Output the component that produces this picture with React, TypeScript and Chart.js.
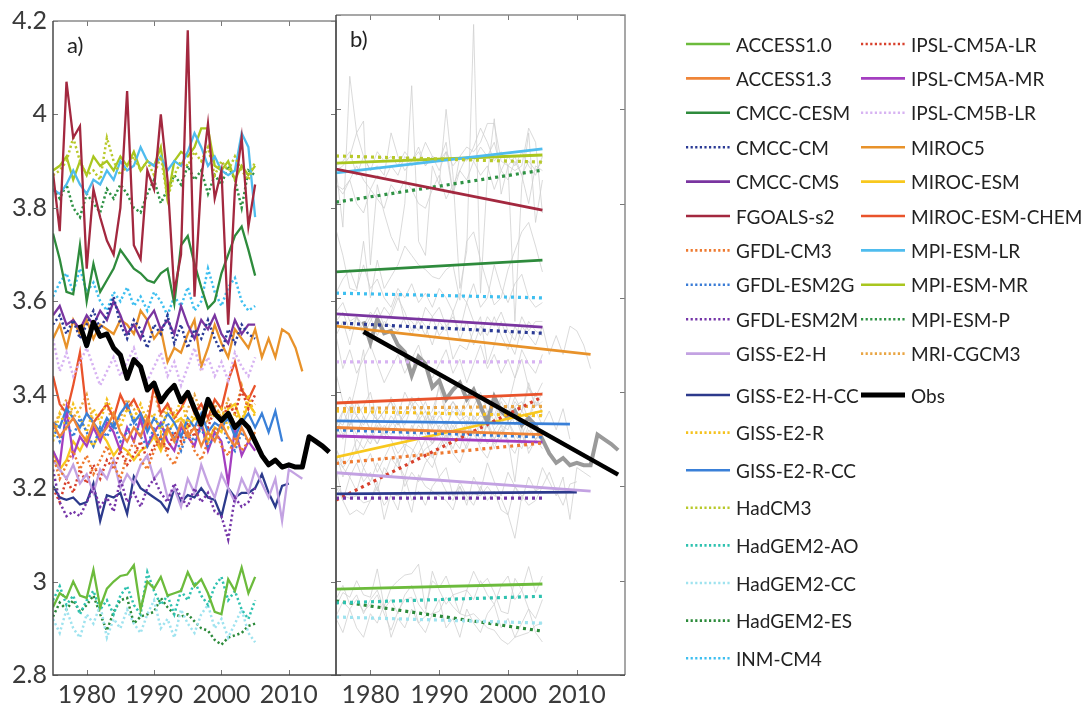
import React, { useEffect, useRef } from "react";
import { Chart, registerables } from "chart.js";

Chart.register(...registerables);

// ---------- axes ----------
const X_MIN = 1975;
const X_MAX = 2017;
const xTickValues = [1980, 1990, 2000, 2010];
const Y_MIN = 2.8;
const Y_MAX = 4.2;
const yTickValues = [2.8, 3.0, 3.2, 3.4, 3.6, 3.8, 4.0, 4.2];

// ---------- models ----------
const modelNames = [
  "ACCESS1.0", "ACCESS1.3", "CMCC-CESM", "CMCC-CM", "CMCC-CMS", "FGOALS-s2",
  "GFDL-CM3", "GFDL-ESM2G", "GFDL-ESM2M", "GISS-E2-H", "GISS-E2-H-CC", "GISS-E2-R",
  "GISS-E2-R-CC", "HadCM3", "HadGEM2-AO", "HadGEM2-CC", "HadGEM2-ES", "INM-CM4",
  "IPSL-CM5A-LR", "IPSL-CM5A-MR", "IPSL-CM5B-LR", "MIROC5", "MIROC-ESM", "MIROC-ESM-CHEM",
  "MPI-ESM-LR", "MPI-ESM-MR", "MPI-ESM-P", "MRI-CGCM3",
];
const seriesStartYear = 1975;

const access10 = [2.945, 2.975, 2.965, 3.0, 2.97,
  2.965, 3.025, 2.945, 2.985, 3.0, 3.012, 3.015, 3.035, 2.94, 3.0,
  2.985, 3.01, 2.97, 2.975, 2.98, 3.02, 2.99, 3.005, 2.975, 2.935,
  2.93, 3.005, 2.98, 3.03, 2.975, 3.01];
const access13 = [3.34, 3.31, 3.33, 3.35, 3.32,
  3.30, 3.34, 3.31, 3.33, 3.36, 3.32, 3.30, 3.33, 3.31, 3.35,
  3.32, 3.29, 3.33, 3.30, 3.34, 3.31, 3.33, 3.29, 3.32, 3.30,
  3.34, 3.31, 3.29, 3.33, 3.30, 3.32];
const cmccCesm = [3.745, 3.69, 3.62, 3.615, 3.72,
  3.60, 3.68, 3.62, 3.645, 3.67, 3.71, 3.69, 3.67, 3.66, 3.645,
  3.64, 3.66, 3.67, 3.595, 3.72, 3.74, 3.68, 3.63, 3.585, 3.60,
  3.66, 3.70, 3.74, 3.76, 3.71, 3.655];
const cmccCm = [3.55, 3.57, 3.53, 3.56, 3.52,
  3.55, 3.58, 3.54, 3.57, 3.61, 3.55, 3.52, 3.56, 3.54, 3.50,
  3.55, 3.53, 3.57, 3.51, 3.55, 3.50, 3.54, 3.52, 3.56, 3.52,
  3.49, 3.54, 3.51, 3.55, 3.53, 3.52];
const cmccCms = [3.57, 3.59, 3.55, 3.56, 3.54,
  3.57, 3.55, 3.58, 3.56, 3.60, 3.57, 3.53, 3.55, 3.52, 3.56,
  3.58, 3.54, 3.56, 3.53, 3.59, 3.55, 3.52, 3.56, 3.54, 3.57,
  3.53, 3.51, 3.56, 3.53, 3.55, 3.55];
const fgoalsS2 = [3.875, 3.75, 4.07, 3.95, 3.975,
  3.67, 3.84, 3.78, 3.73, 3.70, 3.80, 4.05, 3.72, 3.69, 3.88,
  3.84, 4.00, 3.86, 3.62, 3.70, 4.18, 3.61, 3.86, 3.98, 3.82,
  3.88, 3.55, 3.84, 3.95, 3.76, 3.85];
const gfdlCm3 = [3.27, 3.22, 3.25, 3.28, 3.24,
  3.27, 3.23, 3.26, 3.29, 3.25, 3.22, 3.27, 3.30, 3.26, 3.24,
  3.28, 3.31, 3.27, 3.25, 3.29, 3.32, 3.28, 3.26, 3.30, 3.33,
  3.29, 3.27, 3.31, 3.28, 3.30, 3.32];
const gfdlEsm2g = [3.33, 3.30, 3.34, 3.31, 3.35,
  3.32, 3.29, 3.33, 3.31, 3.34, 3.30, 3.32, 3.35, 3.31, 3.29,
  3.33, 3.30, 3.34, 3.31, 3.28, 3.32, 3.30, 3.33, 3.29, 3.31,
  3.34, 3.30, 3.28, 3.32, 3.30, 3.31];
const gfdlEsm2m = [3.24, 3.17, 3.14, 3.15, 3.14,
  3.17, 3.20, 3.16, 3.18, 3.15, 3.22, 3.17, 3.19, 3.16, 3.20,
  3.22, 3.19, 3.17, 3.21, 3.18, 3.16, 3.20, 3.17, 3.19, 3.15,
  3.14, 3.09, 3.18, 3.16, 3.17, 3.20];
const gissE2H = [3.26, 3.24, 3.22, 3.25, 3.21,
  3.23, 3.19, 3.24, 3.22, 3.26, 3.20, 3.23, 3.21, 3.25, 3.27,
  3.22, 3.24, 3.18, 3.20, 3.16, 3.22, 3.19, 3.25, 3.21, 3.18,
  3.23, 3.20, 3.17, 3.22, 3.19, 3.24, 3.21, 3.18, 3.22, 3.13,
  3.24, 3.23, 3.22];
const gissE2HCC = [3.205, 3.18, 3.175, 3.18, 3.165,
  3.17, 3.21, 3.13, 3.185, 3.18, 3.19, 3.145, 3.225, 3.20, 3.19,
  3.18, 3.17, 3.15, 3.20, 3.17, 3.185, 3.18, 3.20, 3.18, 3.175,
  3.14, 3.20, 3.18, 3.19, 3.19, 3.20, 3.23, 3.19, 3.16, 3.205,
  3.21];
const gissE2R = [3.30, 3.36, 3.33, 3.38, 3.35,
  3.32, 3.37, 3.34, 3.39, 3.36, 3.33, 3.37, 3.35, 3.38, 3.34,
  3.36, 3.32, 3.37, 3.35, 3.39, 3.34, 3.36, 3.33, 3.38, 3.35,
  3.37, 3.33, 3.36, 3.34, 3.40, 3.35];
const gissE2RCC = [3.34, 3.33, 3.37, 3.35, 3.33,
  3.36, 3.34, 3.32, 3.35, 3.33, 3.36, 3.38, 3.34, 3.36, 3.32,
  3.35, 3.33, 3.36, 3.34, 3.31, 3.35, 3.33, 3.36, 3.32, 3.34,
  3.33, 3.35, 3.31, 3.34, 3.36, 3.33, 3.36, 3.32, 3.365, 3.30];
const hadCm3 = [3.87, 3.88, 3.90, 3.95, 3.90,
  3.87, 3.88, 3.86, 3.95, 3.90, 3.87, 3.89, 3.91, 3.88, 3.90,
  3.87, 3.91, 3.82, 3.87, 3.90, 3.89, 3.92, 3.90, 3.93, 3.87,
  3.90, 3.88, 3.91, 3.88, 3.86, 3.90];
const hadGem2Ao = [2.96, 2.99, 2.95, 2.97, 2.93,
  2.96, 2.98, 2.94, 2.96, 2.93, 2.97, 2.99, 2.95, 2.93, 3.02,
  2.98, 2.95, 2.97, 2.93, 2.98, 2.96, 3.00, 2.97, 2.95, 2.99,
  3.01, 2.96, 2.98, 2.94, 2.92, 2.96];
const hadGem2Cc = [2.92, 2.89, 2.94, 2.90, 2.88,
  2.93, 2.91, 2.95, 2.88, 2.92, 2.90, 2.94, 2.91, 2.89, 2.93,
  2.96, 2.90, 2.92, 2.88, 2.94, 2.91, 2.89, 2.93, 2.95, 2.90,
  2.92, 2.88, 2.91, 2.94, 2.89, 2.87];
const hadGem2Es = [2.925, 2.955, 2.94, 2.96, 2.935,
  2.95, 2.97, 2.93, 2.895, 2.935, 2.96, 2.965, 2.91, 2.925, 2.93,
  2.935, 2.965, 2.945, 2.93, 2.925, 2.93, 2.915, 2.90, 2.895, 2.875,
  2.865, 2.88, 2.885, 2.89, 2.905, 2.91];
const inmCm4 = [3.61, 3.64, 3.66, 3.62, 3.67,
  3.62, 3.64, 3.60, 3.58, 3.62, 3.60, 3.63, 3.59, 3.61, 3.58,
  3.62, 3.60, 3.57, 3.61, 3.59, 3.63, 3.58, 3.60, 3.67, 3.62,
  3.59, 3.63, 3.65, 3.60, 3.58, 3.59];
const ipslCm5aLr = [3.20, 3.17, 3.22, 3.19, 3.24,
  3.21, 3.25, 3.22, 3.26, 3.24, 3.28, 3.25, 3.27, 3.30, 3.26,
  3.29, 3.31, 3.28, 3.32, 3.30, 3.34, 3.31, 3.35, 3.33, 3.37,
  3.34, 3.38, 3.36, 3.41, 3.37, 3.40];
const ipslCm5aMr = [3.28, 3.25, 3.37, 3.27, 3.31,
  3.29, 3.33, 3.30, 3.34, 3.32, 3.28, 3.33, 3.30, 3.35, 3.29,
  3.32, 3.34, 3.30, 3.28, 3.33, 3.31, 3.29, 3.34, 3.28, 3.32,
  3.30, 3.21, 3.33, 3.27, 3.30, 3.28];
const ipslCm5bLr = [3.52, 3.45, 3.49, 3.44, 3.47,
  3.50, 3.46, 3.42, 3.45, 3.48, 3.44, 3.47, 3.50, 3.45, 3.43,
  3.46, 3.49, 3.44, 3.47, 3.42, 3.46, 3.50, 3.45, 3.48, 3.44,
  3.47, 3.43, 3.49, 3.46, 3.44, 3.48];
const miroc5 = [3.52, 3.55, 3.50, 3.56, 3.53,
  3.56, 3.52, 3.55, 3.54, 3.53, 3.56, 3.55, 3.53, 3.58, 3.56,
  3.52, 3.54, 3.47, 3.50, 3.49, 3.53, 3.56, 3.46, 3.50, 3.55,
  3.51, 3.48, 3.54, 3.52, 3.50, 3.54, 3.48, 3.52, 3.48, 3.54,
  3.53, 3.50, 3.45];
const mirocEsm = [3.28, 3.24, 3.26, 3.30, 3.28,
  3.31, 3.29, 3.32, 3.30, 3.27, 3.29, 3.28, 3.26, 3.28, 3.29,
  3.31, 3.28, 3.32, 3.34, 3.35, 3.33, 3.35, 3.34, 3.30, 3.33,
  3.32, 3.37, 3.38, 3.34, 3.38, 3.36];
const mirocEsmChem = [3.44, 3.38, 3.36, 3.42, 3.49,
  3.36, 3.34, 3.36, 3.38, 3.35, 3.40, 3.37, 3.39, 3.36, 3.33,
  3.42, 3.36, 3.38, 3.35, 3.37, 3.40, 3.36, 3.38, 3.35, 3.39,
  3.37, 3.43, 3.47, 3.41, 3.39, 3.42];
const mpiEsmLr = [3.84, 3.83, 3.85, 3.88, 3.85,
  3.83, 3.86, 3.85, 3.88, 3.86, 3.90, 3.88, 3.89, 3.93, 3.90,
  3.89, 3.91, 3.88, 3.90, 3.89, 3.92, 3.96, 3.93, 3.89, 3.91,
  3.88, 3.87, 3.88, 3.96, 3.93, 3.78];
const mpiEsmMr = [3.88, 3.89, 3.91, 3.86, 3.90,
  3.87, 3.91, 3.89, 3.90, 3.88, 3.91, 3.89, 3.92, 3.88, 3.90,
  3.89, 3.93, 3.82, 3.90, 3.92, 3.91, 3.93, 3.97, 3.97, 3.89,
  3.88, 3.90, 3.86, 3.89, 3.87, 3.89];
const mpiEsmP = [3.84, 3.82, 3.85, 3.80, 3.78,
  3.83, 3.81, 3.79, 3.84, 3.82, 3.85, 3.83, 3.80, 3.79, 3.83,
  3.86, 3.81, 3.84, 3.87, 3.85, 3.89, 3.86, 3.88, 3.83, 3.87,
  3.85, 3.89, 3.86, 3.80, 3.88, 3.87];
const mriCgcm3 = [3.33, 3.36, 3.39, 3.35, 3.37,
  3.40, 3.34, 3.36, 3.38, 3.33, 3.35, 3.39, 3.37, 3.34, 3.36,
  3.41, 3.35, 3.38, 3.36, 3.33, 3.37, 3.40, 3.36, 3.34, 3.38,
  3.35, 3.39, 3.36, 3.42, 3.37, 3.38];

const modelSeries = [
  access10, access13, cmccCesm, cmccCm, cmccCms, fgoalsS2,
  gfdlCm3, gfdlEsm2g, gfdlEsm2m, gissE2H, gissE2HCC, gissE2R,
  gissE2RCC, hadCm3, hadGem2Ao, hadGem2Cc, hadGem2Es, inmCm4,
  ipslCm5aLr, ipslCm5aMr, ipslCm5bLr, miroc5, mirocEsm, mirocEsmChem,
  mpiEsmLr, mpiEsmMr, mpiEsmP, mriCgcm3,
];

// linear trend values at the first and last year of each model (panel b)
const trendStart = [2.982, 3.325, 3.655, 3.547, 3.566, 3.873, 3.249, 3.32, 3.175, 3.229,
  3.184, 3.36, 3.339, 3.901, 2.953, 2.923, 2.957, 3.61, 3.171, 3.307,
  3.464, 3.54, 3.262, 3.377, 3.865, 3.886, 3.803, 3.365];
const trendEnd = [2.993, 3.31, 3.68, 3.525, 3.538, 3.786, 3.292, 3.305, 3.175, 3.19,
  3.188, 3.35, 3.332, 3.888, 2.967, 2.91, 2.893, 3.60, 3.39, 3.294,
  3.464, 3.48, 3.36, 3.396, 3.916, 3.903, 3.871, 3.37];

// observations
const obsStartYear = 1979;
const obsValues = [3.55,
  3.505, 3.555, 3.525, 3.53, 3.50, 3.485, 3.435, 3.475, 3.46, 3.41,
  3.425, 3.385, 3.405, 3.42, 3.385, 3.405, 3.37, 3.337, 3.39, 3.36,
  3.345, 3.36, 3.33, 3.345, 3.33, 3.30, 3.27, 3.25, 3.26, 3.245,
  3.25, 3.245, 3.245, 3.31, 3.30, 3.29, 3.277];
const obsTrend = [3.528, 3.225];

// ---------- styles ----------
const modelColors = [
  "#6cbb3c", "#ef8538", "#2e8b3c", "#2a3a95", "#7a35a0", "#a3283f",
  "#ee7a30", "#3a7cd6", "#7535a8", "#c3a2e2", "#2c3a8c", "#f5c21e",
  "#3a80d8", "#b8c92a", "#2fc2b0", "#9fe3ef", "#2b8a3a", "#3ebff0",
  "#d8402c", "#a43ec0", "#d7b3f2", "#e8922a", "#f8c81e", "#e9532b",
  "#4fbcee", "#a9c61f", "#2e9244", "#e9a544",
];
const modelDotted = [
  false, false, false, true, false, false,
  true, true, true, false, false, true,
  false, true, true, true, true, true,
  true, false, true, false, false, false,
  false, false, true, true,
];

const FONT = "Lato, 'Open Sans', sans-serif";
const TICK_COLOR = "#3a3a3a";

function toPoints(values: number[], start: number) {
  return values.map((v, k) => ({ x: start + k, y: v }));
}

function framePlugin(label: string) {
  return {
    id: "frame",
    afterDatasetsDraw(chart: any) {
      const { ctx, chartArea: a, scales } = chart;
      ctx.save();
      ctx.strokeStyle = "#777";
      ctx.lineWidth = 1;
      for (const t of xTickValues) {
        const px = Math.round(scales.x.getPixelForValue(t)) + 0.5;
        ctx.beginPath();
        ctx.moveTo(px, a.bottom); ctx.lineTo(px, a.bottom - 5);
        ctx.moveTo(px, a.top); ctx.lineTo(px, a.top + 5);
        ctx.stroke();
      }
      for (const t of yTickValues) {
        const py = Math.round(scales.y.getPixelForValue(t)) + 0.5;
        ctx.beginPath();
        ctx.moveTo(a.left, py); ctx.lineTo(a.left + 5, py);
        ctx.moveTo(a.right, py); ctx.lineTo(a.right - 5, py);
        ctx.stroke();
      }
      // top and right edges lighter, left and bottom darker
      ctx.lineWidth = 1.5;
      ctx.strokeStyle = "#8a8a8a";
      ctx.beginPath();
      ctx.moveTo(a.left, a.top); ctx.lineTo(a.right, a.top); ctx.lineTo(a.right, a.bottom);
      ctx.stroke();
      ctx.strokeStyle = "#4a4a4a";
      ctx.beginPath();
      ctx.moveTo(a.left, a.top); ctx.lineTo(a.left, a.bottom); ctx.lineTo(a.right, a.bottom);
      ctx.stroke();
      ctx.fillStyle = "#222";
      ctx.font = `22px ${FONT}`;
      ctx.textBaseline = "alphabetic";
      ctx.fillText(label, a.left + 14, a.top + 32);
      ctx.restore();
    },
  };
}

function baseScales(showY: boolean) {
  return {
    x: {
      type: "linear",
      min: X_MIN,
      max: X_MAX,
      afterBuildTicks: (s: any) => { s.ticks = xTickValues.map((v) => ({ value: v })); },
      afterFit: (s: any) => { s.height = 40; },
      grid: { display: false, drawTicks: false },
      border: { display: false },
      ticks: {
        font: { family: FONT, size: 25 },
        color: TICK_COLOR,
        padding: 5,
        maxRotation: 0,
        autoSkip: false,
        callback: (v: any) => String(v),
      },
    },
    y: {
      type: "linear",
      display: showY,
      min: Y_MIN,
      max: Y_MAX,
      afterBuildTicks: (s: any) => { s.ticks = yTickValues.map((v) => ({ value: v })); },
      afterFit: (s: any) => { s.width = showY ? 53 : 0; },
      grid: { display: false, drawTicks: false },
      border: { display: false },
      ticks: {
        font: { family: FONT, size: 25 },
        color: TICK_COLOR,
        padding: 6,
        autoSkip: false,
        callback: (v: any) => String(Number(Number(v).toFixed(1))),
      },
    },
  };
}

function panelAConfig() {
  const datasets: any[] = [];
  datasets.push({
    label: "Obs",
    data: toPoints(obsValues, obsStartYear),
    borderColor: "#000",
    borderWidth: 5,
    borderJoinStyle: "round",
    order: 0,
  });
  modelSeries.forEach((vals, i) => {
    datasets.push({
      label: modelNames[i],
      data: toPoints(vals, seriesStartYear),
      borderColor: modelColors[i],
      borderWidth: modelDotted[i] ? 2.5 : 2.3,
      borderDash: modelDotted[i] ? [2.2, 2.6] : [],
      order: i === 5 ? 1 : 2,
    });
  });
  return {
    type: "line",
    data: { datasets },
    options: {
      animation: false,
      responsive: false,
      maintainAspectRatio: false,
      layout: { padding: { top: 15, right: 9, left: 0, bottom: 0 } },
      plugins: { legend: { display: false }, tooltip: { enabled: false } },
      elements: { point: { radius: 0 }, line: { tension: 0 } },
      scales: baseScales(true),
    },
    plugins: [framePlugin("a)")],
  };
}

function panelBConfig() {
  const datasets: any[] = [];
  datasets.push({
    label: "Obs trend",
    data: [
      { x: obsStartYear, y: obsTrend[0] },
      { x: obsStartYear + obsValues.length - 1, y: obsTrend[1] },
    ],
    borderColor: "#000",
    borderWidth: 4.5,
    order: 0,
  });
  modelSeries.forEach((vals, i) => {
    datasets.push({
      label: modelNames[i] + " trend",
      data: [
        { x: seriesStartYear, y: trendStart[i] },
        { x: seriesStartYear + vals.length - 1, y: trendEnd[i] },
      ],
      borderColor: modelColors[i],
      borderWidth: modelDotted[i] ? 3.2 : 2.8,
      borderDash: modelDotted[i] ? [3, 4] : [],
      order: 1,
    });
  });
  datasets.push({
    label: "Obs series",
    data: toPoints(obsValues, obsStartYear),
    borderColor: "#9a9a9a",
    borderWidth: 4,
    order: 2,
  });
  modelSeries.forEach((vals, i) => {
    datasets.push({
      label: modelNames[i] + " series",
      data: toPoints(vals, seriesStartYear),
      borderColor: "rgba(205,205,205,0.75)",
      borderWidth: 1,
      order: 3,
    });
  });
  return {
    type: "line",
    data: { datasets },
    options: {
      animation: false,
      responsive: false,
      maintainAspectRatio: false,
      layout: { padding: { top: 15, right: 11, left: 10, bottom: 0 } },
      plugins: { legend: { display: false }, tooltip: { enabled: false } },
      elements: { point: { radius: 0 }, line: { tension: 0 } },
      scales: baseScales(false),
    },
    plugins: [framePlugin("b)")],
  };
}

function ChartCanvas({ make, left, width }: { make: () => any; left: number; width: number }) {
  const ref = useRef<HTMLCanvasElement | null>(null);
  useEffect(() => {
    if (!ref.current) return;
    const chart = new Chart(ref.current, make());
    return () => chart.destroy();
  }, []);
  return (
    <canvas
      ref={ref}
      width={width}
      height={715}
      style={{ position: "absolute", left, top: 0, width, height: 715 }}
    />
  );
}

function Legend() {
  const items = [...modelNames.map((n, i) => ({ name: n, color: modelColors[i], dotted: modelDotted[i], obs: false })),
    { name: "Obs", color: "#000", dotted: false, obs: true }];
  const col1Count = 18;
  return (
    <svg
      width={1082}
      height={715}
      style={{ position: "absolute", left: 0, top: 0, pointerEvents: "none" }}
    >
      {items.map((it, i) => {
        const col = i < col1Count ? 0 : 1;
        const row = col === 0 ? i : i - col1Count;
        const y = row < 10 ? 44 + row * 34.4 : 395 + (row - 10) * 37.6;
        const x0 = col === 0 ? 686 : 861;
        const x1 = x0 + 44;
        return (
          <g key={it.name}>
            <line
              x1={x0}
              x2={x1}
              y1={y}
              y2={y}
              stroke={it.color}
              strokeWidth={it.obs ? 5 : 2.6}
              strokeDasharray={it.dotted ? "2.2 2.4" : undefined}
            />
            <text
              x={x1 + 6}
              y={y}
              dominantBaseline="central"
              fontFamily={FONT}
              fontSize={19}
              fill="#222"
            >
              {it.name}
            </text>
          </g>
        );
      })}
    </svg>
  );
}

export default function App() {
  return (
    <div style={{ position: "absolute", left: 0, top: 0, width: 1082, height: 715, background: "#fff" }}>
      <ChartCanvas make={panelAConfig} left={0} width={345} />
      <ChartCanvas make={panelBConfig} left={326} width={310} />
      <Legend />
    </div>
  );
}
